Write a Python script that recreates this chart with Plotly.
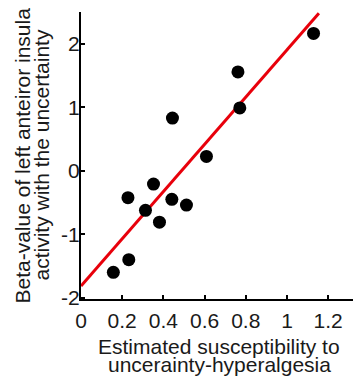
import plotly.graph_objects as go

# Data
susceptibility = [0.157, 0.232, 0.228, 0.313, 0.352, 0.381, 0.441, 0.444, 0.512, 0.609, 0.762, 0.771, 1.129]
beta_value = [-1.60, -1.40, -0.425, -0.624, -0.21, -0.81, -0.45, 0.83, -0.54, 0.225, 1.556, 0.99, 2.163]

fit_x = [0.0, 1.155]
fit_y = [-1.815, 2.48]

x_ticks = [0, 0.2, 0.4, 0.6, 0.8, 1.0, 1.2]
x_tick_labels = ["0", "0.2", "0.4", "0.6", "0.8", "1", "1.2"]
y_ticks = [-2, -1, 0, 1, 2]
y_tick_labels = ["-2", "-1", "0", "1", "2"]

x_title_lines = ["Estimated susceptibility to", "uncerainty-hyperalgesia"]
y_title_lines = ["Beta-value of left anteiror insula", "activity with the uncertainty"]

fig = go.Figure()
fig.add_trace(go.Scatter(x=fit_x, y=fit_y, mode="lines",
                         line=dict(color="#e8000b", width=3), hoverinfo="skip"))
fig.add_trace(go.Scatter(x=susceptibility, y=beta_value, mode="markers",
                         marker=dict(color="black", size=13)))

FS = 21
font = dict(family="Liberation Sans, Arial, sans-serif", size=FS, color="#1a1a1a")

annotations = []
for i, line in enumerate(x_title_lines):
    annotations.append(dict(text=line, xref="paper", yref="paper", x=0.5, y=0,
                            xanchor="center", yanchor="middle", yshift=-47 - 18 * i,
                            showarrow=False, font=font))
for i, line in enumerate(y_title_lines):
    annotations.append(dict(text=line, xref="paper", yref="paper", x=0, y=0.5,
                            xanchor="center", yanchor="middle", xshift=-59 + 19 * i,
                            textangle=-90, showarrow=False, font=font))

# the page body adds an 8px offset, so the figure is 8px smaller than the window
fig.update_layout(
    width=353, height=371,
    margin=dict(l=73, r=4, t=4, b=80),
    paper_bgcolor="white", plot_bgcolor="white",
    showlegend=False,
    font=font,
    annotations=annotations,
    xaxis=dict(range=[0, 1.34], tickvals=x_ticks, ticktext=x_tick_labels,
               showgrid=False, zeroline=False, showline=True, linecolor="black", linewidth=2,
               ticks="inside", ticklen=4, tickwidth=2, tickcolor="black",
               automargin=False, tickfont=font, ticklabelstandoff=2),
    yaxis=dict(range=[-2.02, 2.5], tickvals=y_ticks, ticktext=y_tick_labels,
               showgrid=False, zeroline=False, showline=True, linecolor="black", linewidth=2,
               ticks="inside", ticklen=4, tickwidth=2, tickcolor="black",
               automargin=False, tickfont=font, ticklabelstandoff=-5),
)

fig.write_html("out.html")
